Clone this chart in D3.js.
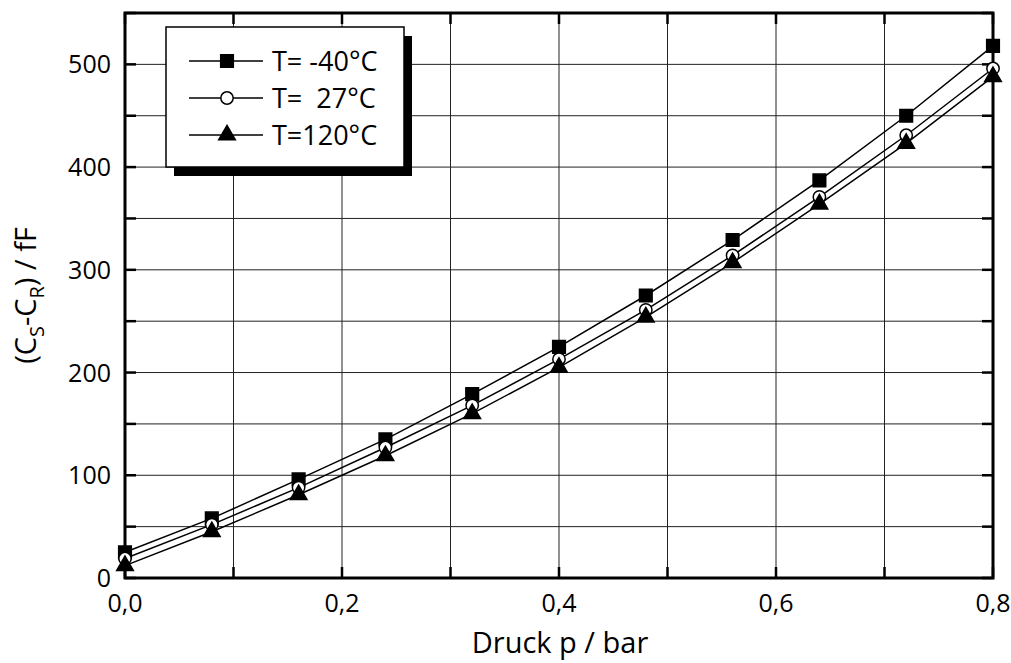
<!DOCTYPE html>
<html lang="de">
<head>
<meta charset="UTF-8">
<title>Druck vs. Kapazität</title>
<style>
  body { margin: 0; background: #fff; font-family: "Open Sans", "Noto Sans", sans-serif; }
  text { fill: #000; }
</style>
<script src="https://d3js.org/d3.v7.min.js"></script>
</head>
<body>
<svg id="chart"></svg>
<script>
  const pressure = [0, 0.08, 0.16, 0.24, 0.32, 0.40, 0.48, 0.56, 0.64, 0.72, 0.80];
  const tMinus40 = [25, 58, 96, 135, 179, 225, 275, 329, 387, 450, 518];
  const t27 = [19, 52, 88, 127, 168, 213, 261, 314, 371, 431, 496];
  const t120 = [12, 45, 81, 119, 160, 205, 254, 307, 364, 423, 488];
  const seriesNames = ["T= -40°C", "T=  27°C", "T=120°C"];
  const xTicks = [0, 0.2, 0.4, 0.6, 0.8];
  const yTicks = [0, 100, 200, 300, 400, 500];

  const series = [
    { name: seriesNames[0], values: tMinus40, symbol: d3.symbolSquare, fill: "#000", size: 160 },
    { name: seriesNames[1], values: t27, symbol: d3.symbolCircle, fill: "#fff", size: 120 },
    { name: seriesNames[2], values: t120, symbol: d3.symbolTriangle, fill: "#000", size: 120 }
  ];

  const W = 1011, H = 663;
  const margin = { top: 13, right: 18, bottom: 85, left: 125 };
  const width = W - margin.left - margin.right;
  const height = H - margin.top - margin.bottom;

  const svg = d3.select("#chart").attr("width", W).attr("height", H);
  const g = svg.append("g").attr("transform", `translate(${margin.left},${margin.top})`);

  const x = d3.scaleLinear().domain([0, 0.8]).range([0, width]);
  const y = d3.scaleLinear().domain([0, 550]).range([height, 0]);
  const comma = v => d3.format(".1f")(v).replace(".", ",");

  // grid
  g.append("g").selectAll("line")
    .data(d3.range(0.1, 0.8, 0.1))
    .join("line")
    .attr("x1", d => x(d)).attr("x2", d => x(d))
    .attr("y1", 0).attr("y2", height)
    .attr("stroke", "#222").attr("stroke-width", 1);
  g.append("g").selectAll("line")
    .data(d3.range(50, 550, 50))
    .join("line")
    .attr("x1", 0).attr("x2", width)
    .attr("y1", d => y(d)).attr("y2", d => y(d))
    .attr("stroke", "#222").attr("stroke-width", 1);

  // inward ticks on all four sides
  const tickLen = 11;
  const xMinor = d3.range(0, 0.81, 0.1);
  const yMinor = d3.range(0, 551, 50);
  g.append("g").selectAll("line").data(xMinor).join("line")
    .attr("x1", d => x(d)).attr("x2", d => x(d))
    .attr("y1", height).attr("y2", height - tickLen)
    .attr("stroke", "#000").attr("stroke-width", 2.5);
  g.append("g").selectAll("line").data(xMinor).join("line")
    .attr("x1", d => x(d)).attr("x2", d => x(d))
    .attr("y1", 0).attr("y2", tickLen)
    .attr("stroke", "#000").attr("stroke-width", 2.5);
  g.append("g").selectAll("line").data(yMinor).join("line")
    .attr("x1", 0).attr("x2", tickLen)
    .attr("y1", d => y(d)).attr("y2", d => y(d))
    .attr("stroke", "#000").attr("stroke-width", 2.5);
  g.append("g").selectAll("line").data(yMinor).join("line")
    .attr("x1", width).attr("x2", width - tickLen)
    .attr("y1", d => y(d)).attr("y2", d => y(d))
    .attr("stroke", "#000").attr("stroke-width", 2.5);

  // frame
  g.append("rect")
    .attr("x", 0).attr("y", 0).attr("width", width).attr("height", height)
    .attr("fill", "none").attr("stroke", "#000").attr("stroke-width", 3);

  // tick labels
  g.append("g").selectAll("text").data(xTicks).join("text")
    .attr("x", d => x(d)).attr("y", height + 34)
    .attr("text-anchor", "middle")
    .attr("font-size", 25)
    .text(d => comma(d));
  g.append("g").selectAll("text").data(yTicks).join("text")
    .attr("x", -14).attr("y", d => y(d) + 9)
    .attr("text-anchor", "end")
    .attr("font-size", 25)
    .text(d => d);

  // axis titles
  svg.append("text")
    .attr("x", 560).attr("y", 653)
    .attr("text-anchor", "middle").attr("font-size", 29)
    .text("Druck p / bar");

  const yt = svg.append("text")
    .attr("transform", `translate(36,${margin.top + height / 2}) rotate(-90)`)
    .attr("text-anchor", "middle").attr("font-size", 29);
  yt.append("tspan").text("(C");
  yt.append("tspan").attr("font-size", 20).attr("dy", 8).text("S");
  yt.append("tspan").attr("dy", -8).text("-C");
  yt.append("tspan").attr("font-size", 20).attr("dy", 8).text("R");
  yt.append("tspan").attr("dy", -8).text(") / fF");

  // lines and markers
  const line = d3.line().x((d, i) => x(pressure[i])).y(d => y(d));
  const sym = d3.symbol();

  series.forEach(s => {
    g.append("path").datum(s.values)
      .attr("d", line)
      .attr("fill", "none").attr("stroke", "#000").attr("stroke-width", 1.5);
  });
  series.forEach(s => {
    g.append("g").selectAll("path").data(s.values).join("path")
      .attr("transform", (d, i) => `translate(${x(pressure[i])},${y(d)})`)
      .attr("d", sym.type(s.symbol).size(s.size)())
      .attr("fill", s.fill).attr("stroke", "#000").attr("stroke-width", 1.5);
  });

  // legend with drop shadow
  const lg = svg.append("g").attr("transform", "translate(166,27)");
  lg.append("rect").attr("x", 8).attr("y", 9).attr("width", 238).attr("height", 140).attr("fill", "#000");
  lg.append("rect").attr("x", 0).attr("y", 0).attr("width", 238).attr("height", 140)
    .attr("fill", "#fff").attr("stroke", "#000").attr("stroke-width", 1.5);

  series.forEach((s, i) => {
    const row = lg.append("g").attr("transform", `translate(0,${34 + i * 37})`);
    row.append("line").attr("x1", 23).attr("x2", 97).attr("y1", 0).attr("y2", 0)
      .attr("stroke", "#000").attr("stroke-width", 1.5);
    row.append("path")
      .attr("transform", "translate(61,0)")
      .attr("d", sym.type(s.symbol).size(s.size)())
      .attr("fill", s.fill).attr("stroke", "#000").attr("stroke-width", 1.5);
    row.append("text").attr("x", 106).attr("y", 10)
      .attr("font-size", 27)
      .style("white-space", "pre")
      .text(s.name);
  });
</script>
</body>
</html>
